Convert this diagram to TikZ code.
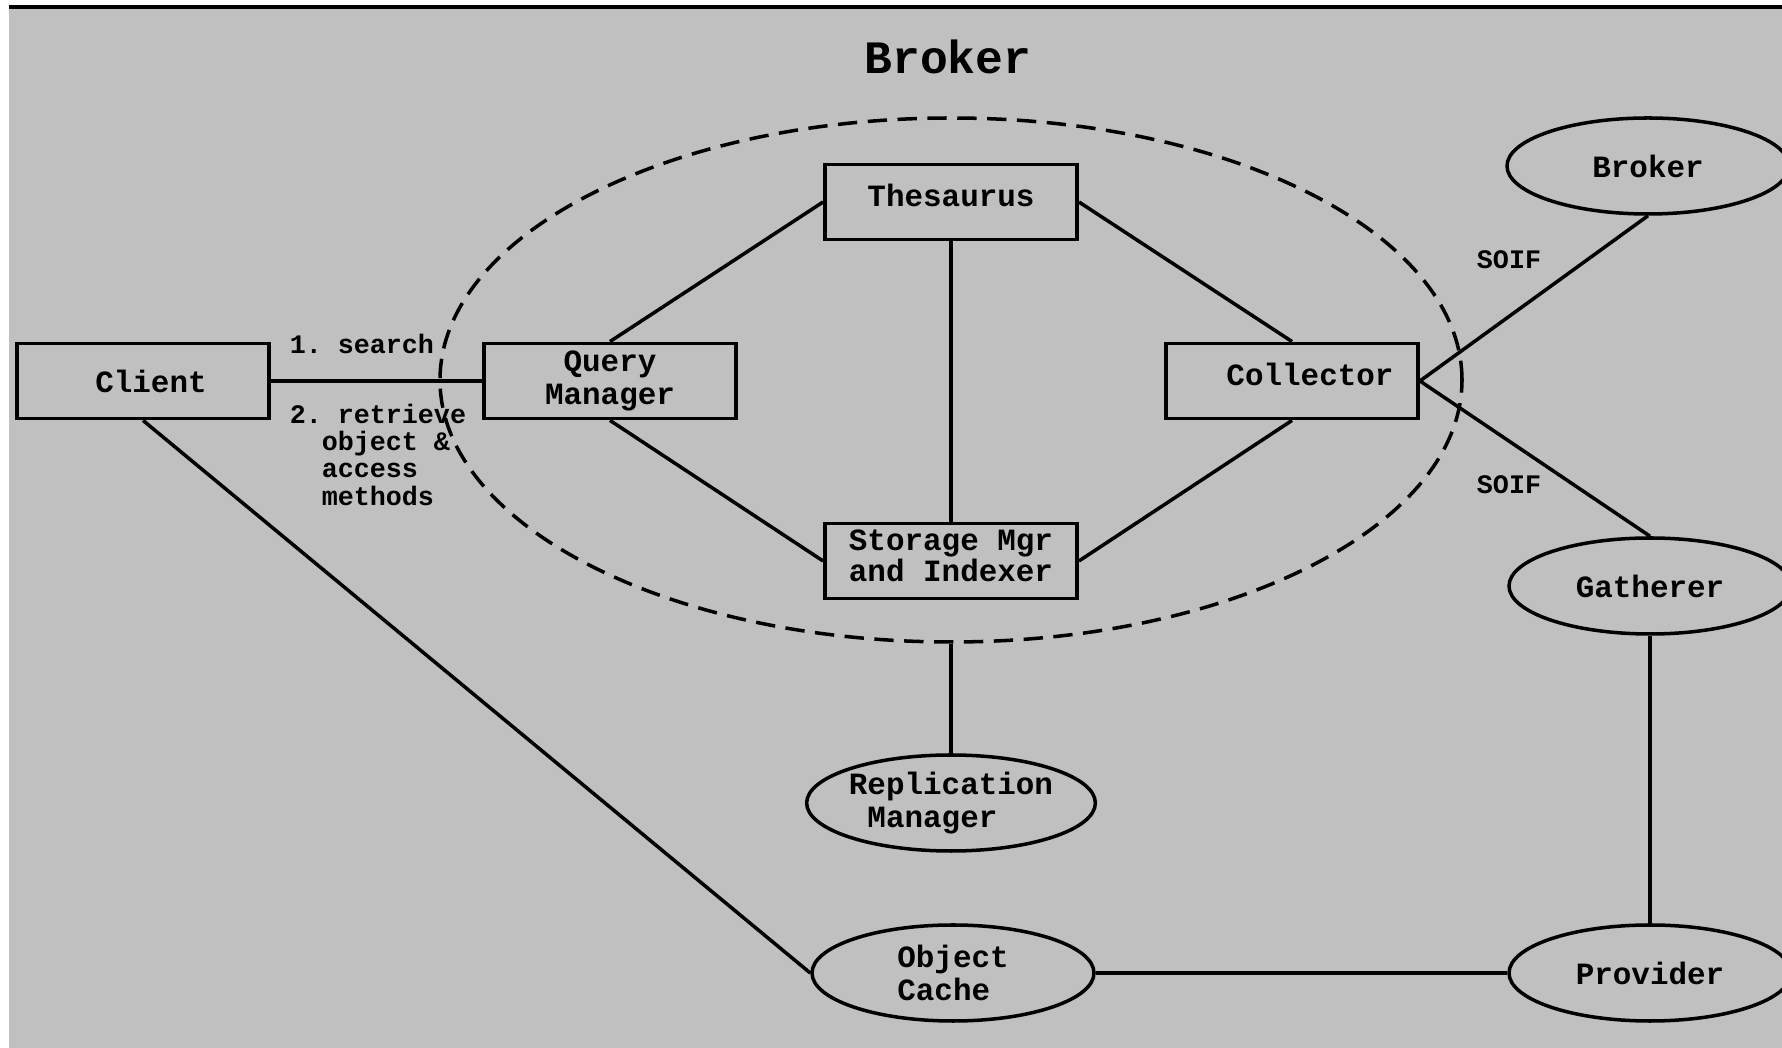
\documentclass[tikz,border=0pt]{standalone}
\usepackage{fontspec}
\setmonofont{Liberation Mono}
\usepackage{tikz}
\usetikzlibrary{shapes.geometric}
\definecolor{panel}{RGB}{192,192,192}

\begin{document}
\begin{tikzpicture}[x=0.1mm,y=-0.1mm,line width=1pt,
  every node/.style={font=\ttfamily\bfseries\fontsize{8.8}{9.6}\selectfont},
  box/.style={draw,line width=1.1pt,minimum width=25.2mm,minimum height=7.5mm,inner sep=0pt},
  oval/.style={draw,ellipse,line width=1pt,minimum width=28.2mm,minimum height=9.6mm,inner sep=0pt},
  tag/.style={font=\ttfamily\bfseries\fontsize{7.6}{7.8}\selectfont,inner sep=0pt}]
  \useasboundingbox (0,0) rectangle (1782,1048);
  \fill[white] (0,0) rectangle (1782,1048);
  \fill[panel] (9,7) rectangle (1782,1048);
  \draw (9,7) -- (1782,7);
  \node[font=\ttfamily\bfseries\fontsize{13.2}{14}\selectfont] (title) at (948,57) {Broker};
  \node[draw,ellipse,dashed,dash pattern=on 5.5pt off 3pt,line width=1pt,minimum width=102.2mm,minimum height=52.4mm,inner sep=0pt] (core) at (951,380) {};
  \node[box,text depth=1.4mm] (thes) at (951,202) {Thesaurus};
  \node[box,align=center] (qm) at (610,381) {Query\\Manager};
  \node[box,text depth=1.4mm] (coll) at (1292,381) {\hspace*{3.6mm}Collector};
  \node[box,align=left,text depth=1mm,font=\ttfamily\bfseries\fontsize{8.8}{8.8}\selectfont] (stor) at (951,561) {Storage Mgr\\and Indexer};
  \node[box] (client) at (143,381) {\hspace*{1.6mm}Client};
  \node[oval] (peer) at (1648,166) {Broker};
  \node[oval] (gath) at (1650,586) {Gatherer};
  \node[oval] (prov) at (1650,973) {Provider};
  \node[oval,align=left] (repl) at (951,803) {Replication\\\hspace*{0.6em}Manager};
  \node[oval,align=left] (cache) at (953,973) {Object\\Cache};
  \node[tag,anchor=west] (search) at (288,344) {1. search};
  \node[tag,anchor=north west,align=left] (fetch) at (288,402) {2. retrieve\\\hspace*{1.2em}object \&\\\hspace*{1.2em}access\\\hspace*{1.2em}methods};
  \node[tag] (soifa) at (1509,260) {SOIF};
  \node[tag] (soifb) at (1509,485) {SOIF};
  \draw (client) -- (qm);
  \draw (client.south) -- (cache.west);
  \draw (thes.west) -- (qm.north);
  \draw (thes.east) -- (coll.north);
  \draw (thes.south) -- (stor.north);
  \draw (qm.south) -- (stor.west);
  \draw (coll.south) -- (stor.east);
  \draw (coll.east) -- (peer.south);
  \draw (coll.east) -- (gath.north);
  \draw (core.south) -- (repl.north);
  \draw (gath) -- (prov);
  \draw (cache) -- (prov);
\end{tikzpicture}
\end{document}
